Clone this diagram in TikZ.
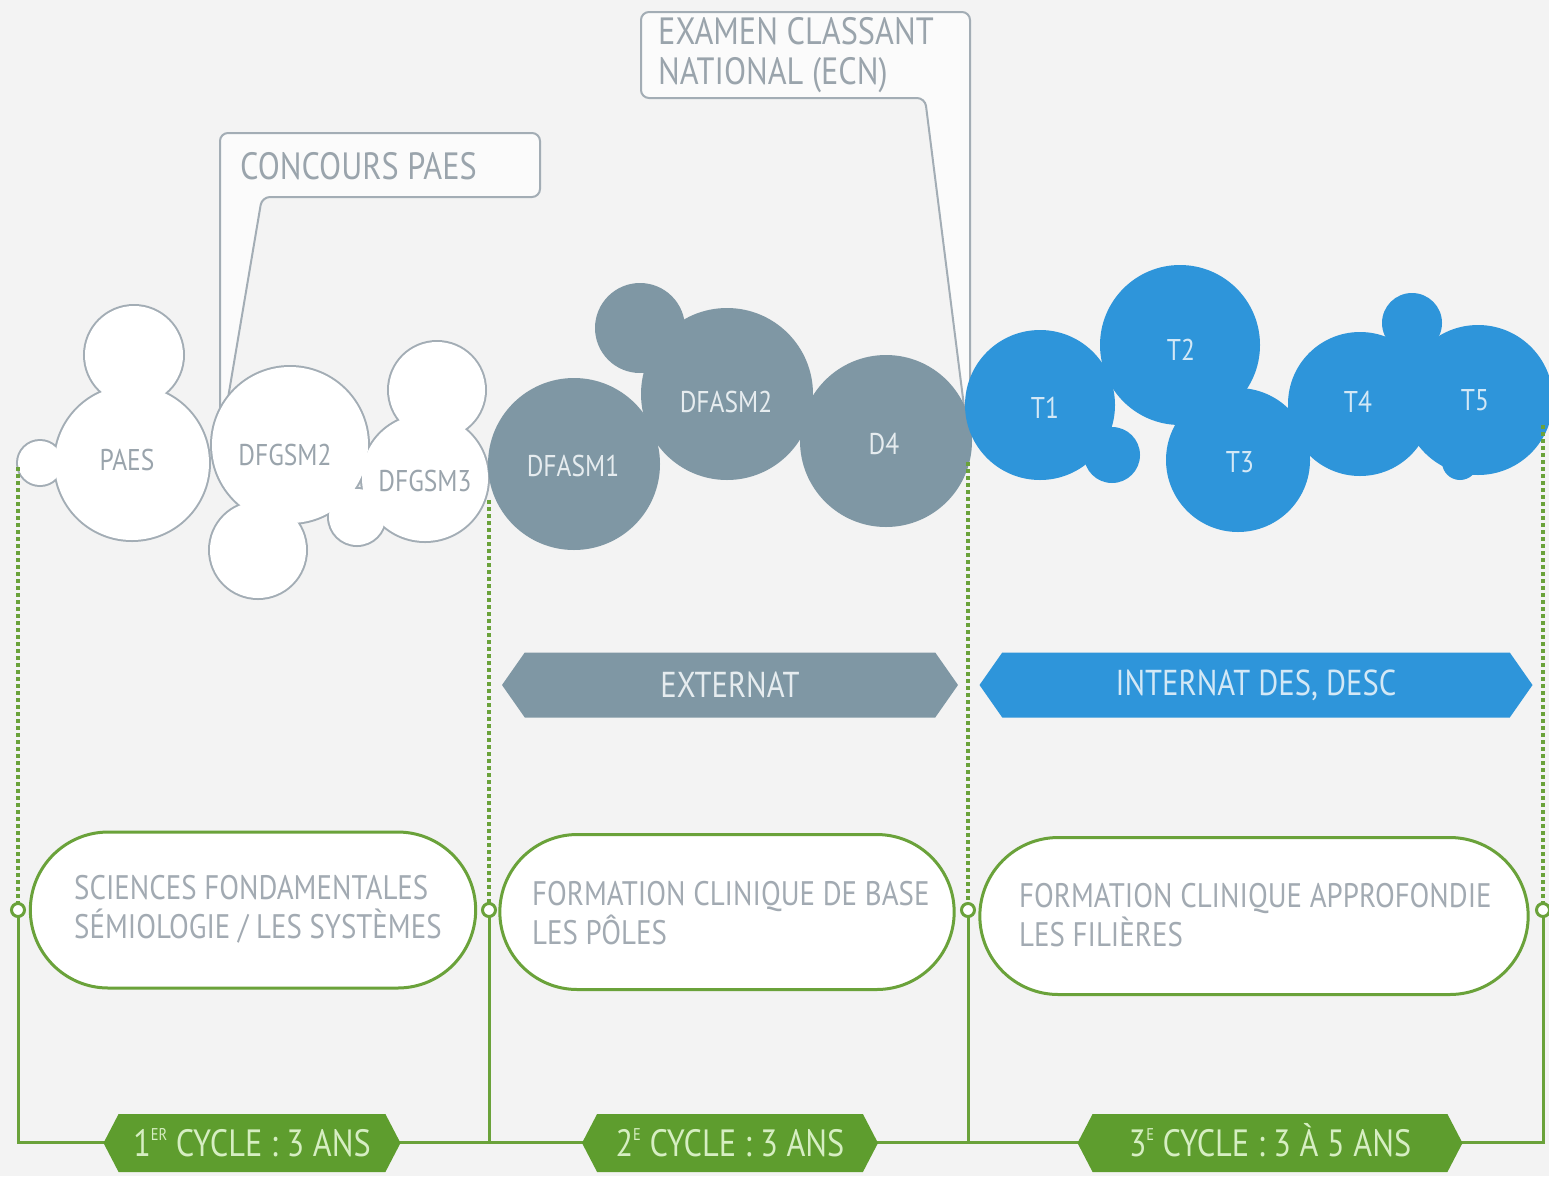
\documentclass[tikz,border=0pt]{standalone}
\usepackage{fontspec}
\setmainfont[FakeStretch=0.85]{PT Sans}
\usetikzlibrary{shapes.geometric, shapes.misc, shapes.symbols, calc}

\definecolor{bgc}{HTML}{F3F3F3}
\definecolor{wline}{HTML}{A3ADB5}
\definecolor{wtxt}{HTML}{9AA4AC}
\definecolor{slate}{HTML}{7F97A4}
\definecolor{slatetxt}{HTML}{E6ECEF}
\definecolor{sky}{HTML}{2E95DA}
\definecolor{skytxt}{HTML}{D3E8F6}
\definecolor{leaf}{HTML}{6AA23A}
\definecolor{leafdark}{HTML}{5E9D2E}
\definecolor{leaftxt}{HTML}{D6EEC2}
\definecolor{boxtxt}{HTML}{A2AAB2}

\newcommand{\expo}[1]{\raisebox{0.42em}{\fontsize{17}{17}\selectfont #1}}

\begin{document}
\begin{tikzpicture}[x=1pt, y=-1pt]
%
% Parcours : PAES -> DFGSM2 -> DFGSM3 | DFASM1 -> DFASM2 -> D4 | T1 ... T5
%            1er cycle                | 2e cycle               | 3e cycle
%
% Styles
\tikzstyle{callout} = [draw=wline, fill=white!70!bgc, line width=2pt, rounded corners=8pt]
\tikzstyle{calltext} = [text=wtxt, font=\fontsize{38}{40}\selectfont, align=left, inner sep=0pt]
\tikzstyle{bubtext} = [font=\fontsize{30}{32}\selectfont, inner sep=0pt]
\tikzstyle{dotline} = [leaf, line width=3.5pt, dash pattern=on 3.5pt off 3.5pt]
\tikzstyle{line} = [leaf, line width=3pt]
\tikzstyle{ring} = [circle, draw=leaf, fill=white, line width=3pt, minimum size=13pt, inner sep=0pt]
\tikzstyle{capsule} = [rounded rectangle, draw=leaf, fill=white, line width=3pt]
\tikzstyle{boxtext} = [text=boxtxt, font=\fontsize{34}{39}\selectfont, align=left, anchor=west, inner sep=0pt]
\tikzstyle{cyclehex} = [signal, signal to=west and east, signal pointer angle=125, fill=leafdark, text=leaftxt, font=\fontsize{38}{40}\selectfont, minimum height=58pt, inner sep=0pt, text height=27pt, text depth=1pt]
\tikzstyle{band} = [signal, signal to=west and east, signal pointer angle=110, font=\fontsize{36}{40}\selectfont, minimum height=65pt, inner sep=0pt]
% Background
\fill[bgc] (0,0) rectangle (1549,1176);
\useasboundingbox (0,0) rectangle (1549,1176);
% Callouts
\draw[callout] (226,410) -- (262,197) -- (540,197) -- (540,133) -- (220,133) -- (220,410);
\node (concours) [calltext, anchor=west] at (240,166) {CONCOURS PAES};
\draw[callout] (967,430) -- (925,98) -- (641,98) -- (641,12) -- (970,12) -- (970,430);
\node (ecn) [calltext, anchor=west] at (658,55) {EXAMEN CLASSANT\\NATIONAL (ECN)};
% Bubbles: 1er cycle (outlined)
\foreach \x/\y/\r in {40/463/22, 132/463/77, 134/355/49, 290/445/78, 258/550/48, 425/478/63, 437/390/48, 357/517/28}
  \draw[wline, line width=4pt] (\x,\y) circle (\r pt);
\foreach \x/\y/\r in {40/463/22, 132/463/77, 134/355/49, 290/445/78, 258/550/48, 425/478/63, 437/390/48, 357/517/28}
  \fill[white] (\x,\y) circle (\r pt);
% Bubbles: 2e cycle
\foreach \x/\y/\r in {574/464/86, 727/394/86, 640/328/45, 886/441/86}
  \fill[slate] (\x,\y) circle (\r pt);
% Bubbles: 3e cycle
\foreach \x/\y/\r in {1040/405/75, 1112/455/28, 1180/345/80, 1238/460/72, 1360/404/72, 1478/400/75, 1412/323/30, 1418/372/30, 1460/462/18}
  \fill[sky] (\x,\y) circle (\r pt);
% Bubble labels
\node (paes) [bubtext, text=wtxt] at (127,460) {PAES};
\node (dfgsm2) [bubtext, text=wtxt] at (285,455) {DFGSM2};
\node (dfgsm3) [bubtext, text=wtxt] at (425,481) {DFGSM3};
\node (dfasm1) [bubtext, text=slatetxt] at (573,466) {DFASM1};
\node (dfasm2) [bubtext, text=slatetxt] at (726,402) {DFASM2};
\node (d4) [bubtext, text=slatetxt] at (884,444) {D4};
\node (t1) [bubtext, text=skytxt] at (1045,408) {T1};
\node (t2) [bubtext, text=skytxt] at (1181,350) {T2};
\node (t3) [bubtext, text=skytxt] at (1240,462) {T3};
\node (t4) [bubtext, text=skytxt] at (1358,402) {T4};
\node (t5) [bubtext, text=skytxt] at (1475,400) {T5};
% Bands
\node (externat) [band, fill=slate, text=slatetxt, minimum width=456pt] at (730,685) {EXTERNAT};
\node (internat) [band, fill=sky, text=skytxt, minimum width=553pt] at (1256,685) {INTERNAT DES, DESC};
% Junctions
\coordinate (top1) at (18,467);
\coordinate (top2) at (489,500);
\coordinate (top3) at (968,462);
\coordinate (top4) at (1543,425);
\coordinate (bot1) at (18,1142);
\coordinate (bot2) at (489,1142);
\coordinate (bot3) at (968,1142);
\coordinate (bot4) at (1543,1142);
\draw[dotline] (top1) -- (18,910);
\draw[dotline] (top2) -- (489,910);
\draw[dotline] (top3) -- (968,910);
\draw[dotline] (top4) -- (1543,910);
\draw[line] (18,910) -- (bot1) -- (bot4) -- (1543,910);
\draw[line] (489,910) -- (bot2);
\draw[line] (968,910) -- (bot3);
% Cycle boxes
\node (fond) [capsule, minimum width=452pt, minimum height=156pt] at (253,910) {};
\node (base) [capsule, minimum width=461pt, minimum height=155pt] at (727,912) {};
\node (appro) [capsule, minimum width=555pt, minimum height=157pt] at (1254,916) {};
\node (fond txt) [boxtext] at (74,909) {SCIENCES FONDAMENTALES\\SÉMIOLOGIE / LES SYSTÈMES};
\node (base txt) [boxtext] at (532,913) {FORMATION CLINIQUE DE BASE\\LES PÔLES};
\node (appro txt) [boxtext] at (1019,915) {FORMATION CLINIQUE APPROFONDIE\\LES FILIÈRES};
\node (j1) [ring] at (18,910) {};
\node (j2) [ring] at (489,910) {};
\node (j3) [ring] at (968,910) {};
\node (j4) [ring] at (1543,910) {};
% Cycles
\node (cyc1) [cyclehex, minimum width=297pt] at (252,1143) {1\expo{ER} CYCLE : 3 ANS};
\node (cyc2) [cyclehex, minimum width=296pt] at (730,1143) {2\expo{E} CYCLE : 3 ANS};
\node (cyc3) [cyclehex, minimum width=385pt] at (1270,1143) {3\expo{E} CYCLE : 3 À 5 ANS};
\end{tikzpicture}
\end{document}
